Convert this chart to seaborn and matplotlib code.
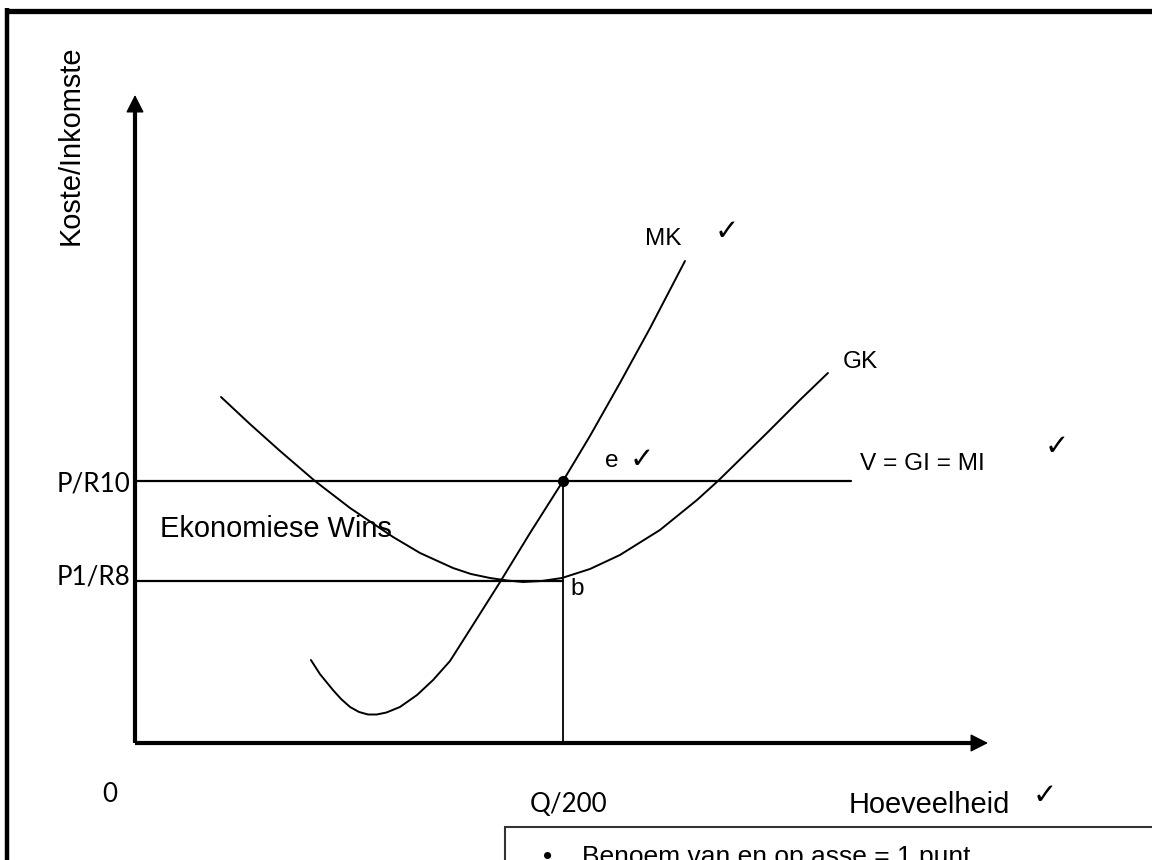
import matplotlib
matplotlib.use("Agg")
import matplotlib.pyplot as plt
from matplotlib.lines import Line2D
from matplotlib.patches import Rectangle
import seaborn as sns
import pandas as pd

# ---------------- data (schematic units: quantity, Rand) ----------------
price_levels = [10.0, 8.0]                 # P/R10 and P1/R8
price_labels = ["P/R10", "P1/R8"]
q_eq = 200.0                               # Q/200
q_label = "Q/200"

mk_q = [82.2, 86.4, 92.5, 96.3, 100.5, 104.7, 108.9, 113.0, 117.5, 123.8, 131.8,
        139.3, 147.2, 157.9, 170.6, 184.6, 200.0, 212.6, 226.6, 240.7, 257.0]
mk_c = [6.42, 6.14, 5.82, 5.64, 5.48, 5.38, 5.33, 5.33, 5.37, 5.48, 5.72,
        6.02, 6.40, 7.12, 7.98, 8.96, 10.00, 10.90, 11.96, 13.06, 14.40]

gk_q = [40.2, 53.7, 67.8, 84.1, 100.5, 120.6, 133.2, 148.6, 157.0, 165.9, 174.0,
        181.3, 190.0, 199.5, 212.6, 226.6, 245.3, 262.6, 272.4, 295.3, 310.7, 323.8]
gk_c = [11.68, 11.14, 10.60, 10.00, 9.46, 8.88, 8.56, 8.26, 8.14, 8.06, 8.01,
        7.98, 8.00, 8.06, 8.24, 8.52, 9.02, 9.62, 10.00, 10.96, 11.62, 12.16]

ar_q_end = 334.6          # end of V = GI = MI line
axis_floor = 4.76         # cost level of horizontal axis
y_axis_top = 17.72
x_axis_end = 398.6

# ---------------- figure ----------------
sns.set_theme(style="white")
plt.rcParams["font.family"] = ["Liberation Sans", "DejaVu Sans"]
plt.rcParams["text.color"] = "black"

W, H = 1152, 860
fig = plt.figure(figsize=(W / 100, H / 100), dpi=100)
ax = fig.add_axes([0, 0, 1, 1])
ax.set_xlim(-63.08, 475.23)
ax.set_ylim(2.42, 19.62)
ax.axis("off")

def fp(x, y):
    return x / W, 1 - y / H

# outer frame (left and top)
fig.add_artist(Line2D([7 / W, 7 / W], [0, 1 - 8 / H], transform=fig.transFigure,
                      color="black", lw=3.2, solid_capstyle="butt"))
fig.add_artist(Line2D([5 / W, 1], [1 - 10.5 / H, 1 - 10.5 / H], transform=fig.transFigure,
                      color="black", lw=3.8, solid_capstyle="butt"))

# axes with arrows
ax.plot([0, 0], [axis_floor, y_axis_top - 0.25], color="black", lw=3, solid_capstyle="butt")
ax.plot([0, x_axis_end - 5], [axis_floor, axis_floor], color="black", lw=3, solid_capstyle="butt")
ax.annotate("", xy=(0, y_axis_top), xytext=(0, y_axis_top - 0.5),
            arrowprops=dict(arrowstyle="-|>,head_length=0.55,head_width=0.28",
                            mutation_scale=20, color="black", lw=1, shrinkA=0, shrinkB=0))
ax.annotate("", xy=(x_axis_end, axis_floor), xytext=(x_axis_end - 10, axis_floor),
            arrowprops=dict(arrowstyle="-|>,head_length=0.55,head_width=0.28",
                            mutation_scale=20, color="black", lw=1, shrinkA=0, shrinkB=0))

# curves
sns.lineplot(data=pd.DataFrame({"q": mk_q, "c": mk_c}), x="q", y="c", sort=False,
             estimator=None, color="black", lw=1.4, ax=ax)
sns.lineplot(data=pd.DataFrame({"q": gk_q, "c": gk_c}), x="q", y="c", sort=False,
             estimator=None, color="black", lw=1.4, ax=ax)

# price lines and quantity line
ax.plot([0, ar_q_end], [price_levels[0]] * 2, color="black", lw=1.6)
ax.plot([0, q_eq], [price_levels[1]] * 2, color="black", lw=1.6)
ax.plot([q_eq, q_eq], [axis_floor, price_levels[0]], color="black", lw=1.3)
ax.plot([q_eq], [price_levels[0]], marker="o", ms=7, color="black")

# ---------------- texts ----------------
big = 20.9
mid = 17.6
calib = ["Lato", "DejaVu Sans"]
chk = ["DejaVu Sans"]

fig.text(*fp(71, 145), "Koste/Inkomste", rotation=90, ha="center", va="center", fontsize=big)
fig.text(*fp(130, 492), price_labels[0], ha="right", va="baseline", fontsize=18.7, family=calib)
fig.text(*fp(130, 585), price_labels[1], ha="right", va="baseline", fontsize=18.7, family=calib)
fig.text(*fp(102, 802), "0", ha="left", va="baseline", fontsize=18.7, family=calib)
fig.text(*fp(530, 812), q_label, ha="left", va="baseline", fontsize=18.7, family=calib)
fig.text(*fp(160, 537), "Ekonomiese Wins", ha="left", va="baseline", fontsize=big)
fig.text(*fp(849, 813), "Hoeveelheid", ha="left", va="baseline", fontsize=big)

fig.text(*fp(645, 245), "MK", ha="left", va="baseline", fontsize=mid)
fig.text(*fp(843, 368), "GK", ha="left", va="baseline", fontsize=mid)
fig.text(*fp(605, 467), "e", ha="left", va="baseline", fontsize=mid)
fig.text(*fp(860, 470), "V = GI = MI", ha="left", va="baseline", fontsize=mid)
fig.text(*fp(570, 595), "b", ha="left", va="baseline", fontsize=mid)

for cx, cy in [(727, 232), (642, 460), (1057, 447), (1045, 796)]:
    fig.text(*fp(cx, cy), "\u2713", ha="center", va="center", fontsize=21, family=chk)

# marking box at the bottom
fig.add_artist(Rectangle(fp(505, 900), 700 / W, 73 / H, transform=fig.transFigure,
                         fill=False, edgecolor="#333333", lw=1.5))
fig.text(*fp(543, 864), "\u2022", ha="left", va="baseline", fontsize=19)
fig.text(*fp(582, 864), "Benoem van en op asse = 1 punt", ha="left", va="baseline", fontsize=19)

fig.savefig("out.png", dpi=100, facecolor="white")
